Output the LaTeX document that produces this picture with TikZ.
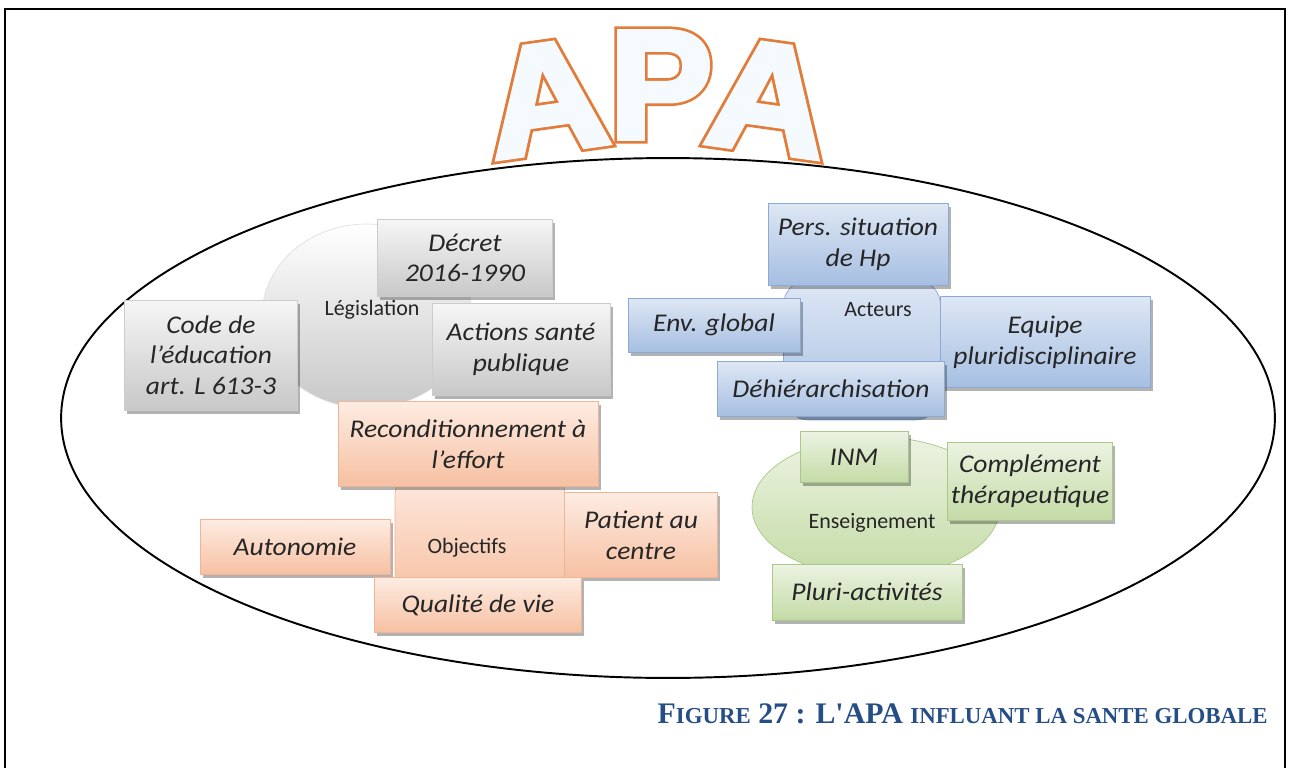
\documentclass[tikz,border=0pt]{standalone}
\usepackage{fontspec}
\setmainfont{Carlito}
\newfontfamily\cardfont{Carlito}[FakeStretch=1.08]
\newfontfamily\apaedge{Liberation Sans Bold}[FakeBold=7]
\newfontfamily\apafill{Liberation Sans Bold}[FakeBold=3.5]
\newfontfamily\capfont{Liberation Serif}
\usetikzlibrary{positioning,shadows,shapes.geometric}

\definecolor{apaorange}{RGB}{226,124,58}
\definecolor{apainside}{RGB}{244,250,253}
\definecolor{capblue}{RGB}{38,78,134}
\definecolor{graytop}{RGB}{246,246,246}
\definecolor{graybot}{RGB}{200,200,200}
\definecolor{peachtop}{RGB}{253,236,226}
\definecolor{peachbot}{RGB}{247,192,162}
\definecolor{peachline}{RGB}{240,180,150}
\definecolor{bluetop}{RGB}{222,231,244}
\definecolor{bluebot}{RGB}{166,191,226}
\definecolor{blueline}{RGB}{140,170,212}
\definecolor{greentop}{RGB}{236,243,226}
\definecolor{greenbot}{RGB}{196,219,166}
\definecolor{greenline}{RGB}{170,200,135}

\tikzset{
  card/.style={rectangle, inner sep=2pt, align=center,
    font=\cardfont\fontsize{14.5}{17.5}\selectfont\itshape, text=black!85,
    drop shadow={shadow xshift=1.5pt, shadow yshift=-2pt, fill=black, opacity=.3}},
  graycard/.style={card, draw=gray!40, top color=graytop, bottom color=graybot},
  peachcard/.style={card, draw=peachline, top color=peachtop, bottom color=peachbot},
  bluecard/.style={card, draw=blueline, top color=bluetop, bottom color=bluebot},
  greencard/.style={card, draw=greenline, top color=greentop, bottom color=greenbot},
  hubtext/.style={font=\fontsize{12.5}{15}\selectfont, text=black!85},
  apaedgeletter/.style={inner sep=0pt, text=apaorange,
    font=\apaedge\fontsize{88}{88}\selectfont},
  apafillletter/.style={inner sep=0pt, text=apainside,
    font=\apafill\fontsize{88}{88}\selectfont},
  captext/.style={inner sep=0pt, text=capblue,
    font=\capfont\bfseries\fontsize{17}{20}\selectfont}
}
\newcommand\capsmall{\fontsize{13}{15}\selectfont}

\begin{document}
\begin{tikzpicture}[x=0.02cm, y=-0.02cm]
\useasboundingbox (0,0) rectangle (1290,767);
\fill[white] (0,0) rectangle (1290,767);
% frame and big ellipse
\draw[line width=1.3pt] (5,800) -- (5,9) -- (1285,9) -- (1285,800);
\draw[line width=1.1pt] (668,418) ellipse [x radius=12.14cm, y radius=5.2cm];

% Legislation
\node[ellipse, draw=gray!25, top color=white, bottom color=graybot,
      minimum width=4.2cm, minimum height=3.68cm] (legislation blob) at (367,316) {};
\node[hubtext] (legislation) at (372,310) {Législation};
\node[graycard, minimum width=3.5cm, minimum height=1.54cm] (decret) at (465,258) {Décret\\2016-1990};
\node[graycard, minimum width=3.46cm, minimum height=2.2cm] (code) at (211,355) {Code de\\l’éducation\\art. L 613-3};
\node[graycard, minimum width=3.56cm, minimum height=1.84cm] (actions) at (521,349) {Actions santé\\publique};

% Objectifs
\node[rectangle, rounded corners=0.5cm, draw=peachline, top color=peachtop, bottom color=peachbot,
      minimum width=3.4cm, minimum height=2.56cm] (objectifs blob) at (480,534) {};
\node[peachcard, minimum width=5.2cm, minimum height=1.7cm] (reco) at (468,444) {Reconditionnement à\\l’effort};
\node[hubtext] (objectifs) at (467,548) {Objectifs};
\node[peachcard, minimum width=3.8cm, minimum height=1.1cm] (autonomie) at (295,547) {Autonomie};
\node[peachcard, minimum width=3.06cm, minimum height=1.7cm] (patient) at (641,535) {Patient au\\centre};
\node[peachcard, minimum width=4.14cm, minimum height=1.1cm] (qualite) at (478,605) {Qualité de vie};

% Acteurs
\node[rectangle, rounded corners=0.5cm, draw=blueline, top color=bluetop, bottom color=bluebot,
      minimum width=3.14cm, minimum height=2.8cm] (acteurs blob) at (862,350) {};
\node[bluecard, minimum width=3.6cm, minimum height=1.64cm] (pers) at (858,244) {Pers. situation\\de Hp};
\node[hubtext] (acteurs) at (878,310) {Acteurs};
\node[bluecard, minimum width=3.44cm, minimum height=1.08cm] (env) at (714,325) {Env. global};
\node[bluecard, minimum width=4.2cm, minimum height=1.82cm] (equipe) at (1045,342) {Equipe\\pluridisciplinaire};
\node[bluecard, minimum width=4.54cm, minimum height=1.1cm] (dehier) at (831,389) {Déhiérarchisation};

% Enseignement
\node[ellipse, draw=greenline, top color=greentop, bottom color=greenbot,
      minimum width=4.96cm, minimum height=2.8cm] (enseignement blob) at (876,507) {};
\node[greencard, minimum width=2.16cm, minimum height=1.02cm] (inm) at (854,457) {INM};
\node[greencard, minimum width=2.84cm, minimum height=1.56cm] (complement) at (1030,481) {Complément\\thérapeutique};
\node[hubtext] (enseignement) at (872,523) {Enseignement};
\node[greencard, minimum width=3.8cm, minimum height=1.12cm] (pluri) at (867,592) {Pluri-activités};

% APA title
\node[apaedgeletter, rotate=8, xscale=1.07] (apa left edge) at (546,98) {A};
\node[apaedgeletter] (apa middle edge) at (661,85) {P};
\node[apaedgeletter, rotate=-8, xscale=1.07] (apa right edge) at (769,98) {A};
\node[apafillletter, rotate=8, xscale=1.07] (apa left) at (apa left edge) {A};
\node[apafillletter] (apa middle) at (apa middle edge) {P};
\node[apafillletter, rotate=-8, xscale=1.07] (apa right) at (apa right edge) {A};

% caption
\node[captext, anchor=base east] (caption) at (1268,723)
  {F{\capsmall IGURE} 27 : L'APA {\capsmall INFLUANT LA SANTE GLOBALE}};
\end{tikzpicture}
\end{document}
